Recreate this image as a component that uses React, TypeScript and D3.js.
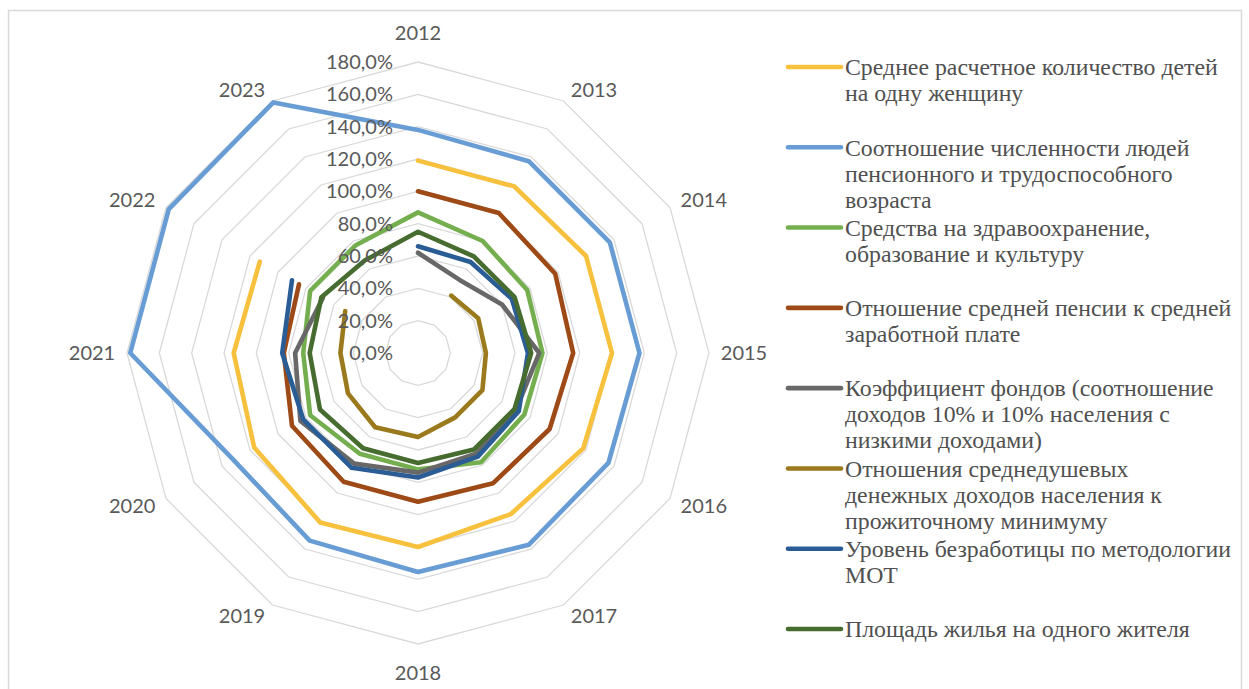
import React, { useEffect, useRef } from 'react';
import * as d3 from 'd3';

// categories and value-axis ticks
const years = ['2012', '2013', '2014', '2015', '2016', '2017', '2018', '2019', '2020', '2021', '2022', '2023'];
const ticks = [0, 20, 40, 60, 80, 100, 120, 140, 160, 180];

// series values, % (null = no data)
const childrenPerWoman = [119, 119, 120, 120, 118, 115, 120, 121, 117, 114, 113, null];
const pensionersToWorkers = [138, 137, 137, 137, 136, 137, 135.5, 134, 132, 178, 178, 179];
const healthEduCulture = [87, 80, 78, 77, 76, 78, 72, 72, 77, 71, 77, 77];
const pensionToWage = [100, 100, 98, 96, 94, 93, 92, 92, 90, 83, 85, null];
const fundsRatio = [62, 52, 60, 75, 70, 72, 74, 79, 84, 76, 68, null];
const incomeToSubsistence = [null, 41, 43, 42, 46, 46, 52, 53, 50, 48, 52, null];
const unemployment = [66, 65, 67, 68, 72, 74, 77, 82, 82, 84, 90, null];
const housingPerCapita = [75, 69, 69, 70, 69, 69, 68, 68, 70, 67, 69, 66];

const legendLines = [
  ['Среднее расчетное количество детей', 'на одну женщину'],
  ['Соотношение численности людей', 'пенсионного и трудоспособного', 'возраста'],
  ['Средства на здравоохранение,', 'образование и культуру'],
  ['Отношение средней пенсии к средней', 'заработной плате'],
  ['Коэффициент фондов (соотношение', 'доходов 10% и 10% населения с', 'низкими доходами)'],
  ['Отношения среднедушевых', 'денежных доходов населения к', 'прожиточному минимуму'],
  ['Уровень безработицы по методологии', 'МОТ'],
  ['Площадь жилья на одного жителя'],
];

const series = [
  { values: childrenPerWoman, color: '#F7C13E', closed: false },
  { values: pensionersToWorkers, color: '#689CD4', closed: true },
  { values: healthEduCulture, color: '#74AE4E', closed: true },
  { values: pensionToWage, color: '#9E4A17', closed: false },
  { values: fundsRatio, color: '#686868', closed: false },
  { values: incomeToSubsistence, color: '#9A7A1C', closed: false },
  { values: unemployment, color: '#2A5D95', closed: false },
  { values: housingPerCapita, color: '#476C2F', closed: true },
];

const RadarChart = () => {
  const svgRef = useRef(null);

  useEffect(() => {
    const svg = d3.select(svgRef.current);
    svg.selectAll('*').remove();

    const cx = 418;
    const cy = 353;
    const rScale = d3.scaleLinear().domain([0, 180]).range([0, 291]);
    const aScale = d3.scaleLinear().domain([0, years.length]).range([0, 2 * Math.PI]);

    // chart border
    svg.append('rect')
      .attr('x', 8.5).attr('y', 10.5)
      .attr('width', 1233).attr('height', 700)
      .attr('fill', 'none')
      .attr('stroke', '#d9d9d9')
      .attr('stroke-width', 1.5);

    const g = svg.append('g').attr('transform', `translate(${cx},${cy})`);

    // grid rings
    const ring = d3.lineRadial<string>()
      .angle((d, i) => aScale(i))
      .curve(d3.curveLinearClosed);
    ticks.filter(t => t > 0).forEach(t => {
      g.append('path')
        .attr('d', ring.radius(rScale(t))(years))
        .attr('fill', 'none')
        .attr('stroke', '#d9d9d9')
        .attr('stroke-width', 1.3);
    });

    // series
    series.forEach(s => {
      const line = d3.lineRadial<number | null>()
        .defined(d => d != null)
        .angle((d, i) => aScale(i))
        .radius(d => rScale(d as number))
        .curve(s.closed ? d3.curveLinearClosed : d3.curveLinear);
      g.append('path')
        .attr('d', line(s.values))
        .attr('fill', 'none')
        .attr('stroke', s.color)
        .attr('stroke-width', 4.6)
        .attr('stroke-linejoin', 'round')
        .attr('stroke-linecap', 'round');
    });

    // value axis labels
    ticks.forEach(t => {
      g.append('text')
        .attr('x', -25)
        .attr('y', -rScale(t))
        .attr('dy', '0.35em')
        .attr('text-anchor', 'end')
        .attr('font-family', 'Lato, sans-serif')
        .attr('font-size', 20)
        .attr('fill', '#595959')
        .text(`${t},0%`);
    });

    // category labels
    years.forEach((y, i) => {
      const a = aScale(i);
      const s = Math.sin(a);
      const c = Math.cos(a);
      const sx = Math.abs(s) < 0.01 ? 0 : Math.sign(s);
      const sy = Math.abs(c) < 0.01 ? 0 : Math.sign(c);
      const r0 = sx === 0 ? 310 : 300;
      const dy = sx === 0 ? 10 : 3;
      g.append('text')
        .attr('x', s * r0 + sx * 26)
        .attr('y', -c * r0 - sy * dy)
        .attr('dy', '0.35em')
        .attr('text-anchor', 'middle')
        .attr('font-family', 'Lato, sans-serif')
        .attr('font-size', 20)
        .attr('fill', '#595959')
        .text(y);
    });

    // legend
    const legendY = d3.scaleLinear().domain([0, 7]).range([67, 629]);
    series.forEach((s, i) => {
      const y0 = legendY(i);
      svg.append('line')
        .attr('x1', 788).attr('x2', 841)
        .attr('y1', y0).attr('y2', y0)
        .attr('stroke', s.color)
        .attr('stroke-width', 4.6)
        .attr('stroke-linecap', 'round');
      legendLines[i].forEach((txt, j) => {
        svg.append('text')
          .attr('x', 845)
          .attr('y', y0 + j * 26)
          .attr('dy', '0.35em')
          .attr('font-family', '"Liberation Serif", "Times New Roman", serif')
          .attr('font-size', 23.8)
          .attr('fill', '#505050')
          .text(txt);
      });
    });
  }, []);

  return (
    <svg
      ref={svgRef}
      width={1249}
      height={689}
      style={{ position: 'absolute', left: 0, top: 0, display: 'block', background: '#fff' }}
    />
  );
};

export default function App() {
  return <RadarChart />;
}
